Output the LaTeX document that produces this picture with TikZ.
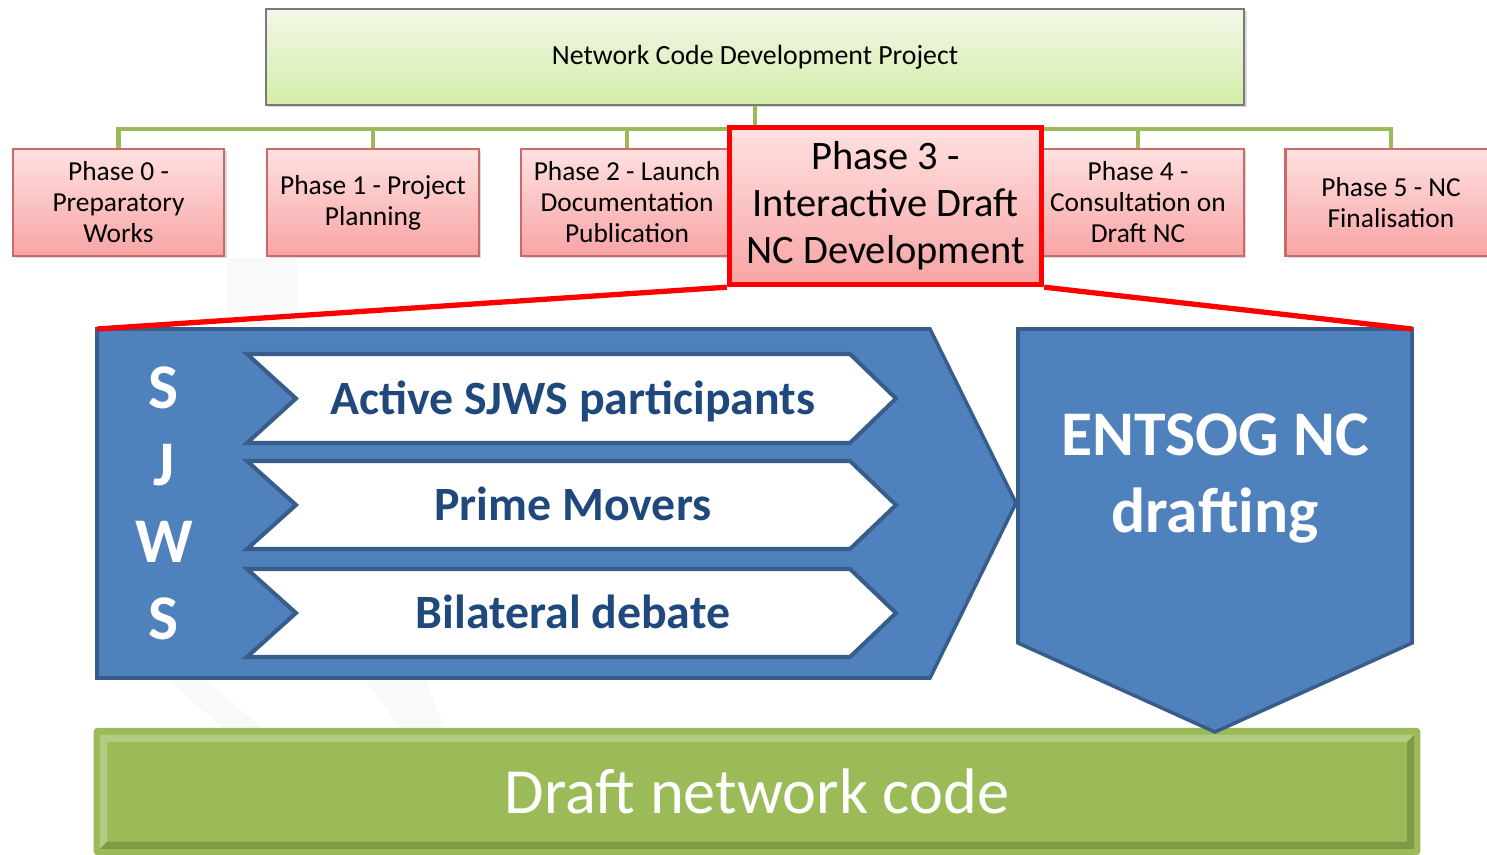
\documentclass[tikz,border=0pt]{standalone}
\usepackage{fontspec}
\setmainfont{Carlito}
\usepackage{tikz}
\usetikzlibrary{shadows}
\usepackage{xcolor}

\definecolor{ncblue}{HTML}{4F81BD}
\definecolor{ncblueline}{HTML}{385D8A}
\definecolor{nctext}{HTML}{1F497D}
\definecolor{ncgreen}{HTML}{9BBB59}
\definecolor{nclight}{HTML}{B3CC84}
\definecolor{ncdark}{HTML}{7E9A45}
\definecolor{projtop}{HTML}{F1F8E8}
\definecolor{projbot}{HTML}{D4EDA8}
\definecolor{phasetop}{HTML}{FFE1E1}
\definecolor{phasebot}{HTML}{F8A4A4}
\definecolor{phaseline}{HTML}{C0504D}

\tikzset{
  projbox/.style={draw=gray!95!black, line width=0.6pt, top color=projtop, bottom color=projbot,
    minimum width=9.78cm, minimum height=0.96cm, inner sep=0pt,
    font=\fontsize{7.9}{9}\selectfont,
    drop shadow={opacity=0.3, shadow xshift=0.7pt, shadow yshift=-0.7pt}},
  phasebox/.style={draw=phaseline!85, line width=0.6pt, top color=phasetop, bottom color=phasebot,
    minimum width=2.11cm, minimum height=1.07cm, inner sep=0pt, align=center,
    font=\fontsize{7.8}{8.8}\selectfont,
    drop shadow={opacity=0.3, shadow xshift=0.7pt, shadow yshift=-0.7pt}},
  bigphase/.style={draw=red, line width=1.5pt, top color=phasetop, bottom color=phasebot,
    minimum width=3.12cm, minimum height=1.57cm, inner sep=0pt, align=center,
    font=\fontsize{11.5}{13.4}\selectfont},
  link/.style={draw=ncgreen, line width=1.2pt},
  zoomline/.style={draw=red, line width=1.5pt},
  blueshape/.style={fill=ncblue, draw=ncblueline, line width=1pt, line join=miter},
  chevron/.style={fill=white, draw=ncblueline, line width=1.15pt, line join=miter},
  chevtext/.style={text=nctext, anchor=base, inner sep=0pt, font=\bfseries\fontsize{13.6}{16}\selectfont},
  whitetext/.style={text=white, align=center, inner sep=0pt, font=\bfseries\fontsize{18.1}{21.9}\selectfont},
  draftbar/.style={fill=ncgreen, rounded corners=1pt, minimum width=13.26cm, minimum height=1.27cm,
    inner sep=0pt, text=white, font=\fontsize{18.3}{20}\selectfont},
  watermark/.style={fill=gray!5}
}

\begin{document}
\begin{tikzpicture}[x=0.01cm,y=-0.01cm]
\useasboundingbox (0,0) rectangle (1487,855) ;
\fill[watermark] (227,258) rectangle (297,329) ;
\fill[watermark] (168,679) -- (205,679) -- (262,728) -- (222,728) -- cycle ;
\fill[watermark] (365,679) -- (425,679) -- (445,728) -- (400,728) -- cycle ;

\node[draftbar] (draft) at (757,791.5) {Draft network code} ;
\fill[nclight] (100,735) -- (1414,735) -- (1407,742) -- (107,742) -- cycle ;
\fill[nclight] (100,735) -- (107,742) -- (107,842) -- (100,849) -- cycle ;
\fill[ncdark] (107,842) -- (1407,842) -- (1414,849) -- (100,849) -- cycle ;
\fill[ncdark] (1414,735) -- (1407,742) -- (1407,842) -- (1414,849) -- cycle ;

\node[projbox] (proj) at (755,57) {Network Code Development Project} ;
\node[phasebox] (ph0) at (118.5,202.5) {Phase 0 -\\Preparatory\\Works} ;
\node[phasebox] (ph1) at (373,202.5) {Phase 1 - Project\\Planning} ;
\node[phasebox] (ph2) at (627,202.5) {Phase 2 - Launch\\Documentation\\Publication} ;
\node[phasebox] (ph4) at (1138,202.5) {Phase 4 -\\Consultation on\\Draft NC} ;
\node[phasebox] (ph5) at (1391,202.5) {Phase 5 - NC\\Finalisation} ;
\coordinate (rail) at (755,129) ;
\draw[link] (proj.south) -- (rail) ;
\draw[link] (ph0.north) |- (rail) ;
\draw[link] (ph1.north) |- (rail) ;
\draw[link] (ph2.north) |- (rail) ;
\draw[link] (ph4.north) |- (rail) ;
\draw[link] (ph5.north) |- (rail) ;
\node[bigphase] (ph3) at (885.5,206) {Phase 3 -\\Interactive Draft\\NC Development} ;

\draw[blueshape] (97,329) -- (930,329) -- (1016,503) -- (930,678) -- (97,678) -- cycle ;
\node[whitetext] (sjws) at (164,503) {S\\J\\W\\S} ;
\draw[chevron] (247,354) -- (850,354) -- (896,398.5) -- (850,443) -- (247,443) -- (296,398.5) -- cycle ;
\node[chevtext] (active) at (573,415) {Active SJWS participants} ;
\draw[chevron] (247,461) -- (850,461) -- (896,505) -- (850,549) -- (247,549) -- (296,505) -- cycle ;
\node[chevtext] (movers) at (573,521) {Prime Movers} ;
\draw[chevron] (247,569) -- (850,569) -- (896,613) -- (850,657) -- (247,657) -- (296,613) -- cycle ;
\node[chevtext] (debate) at (573,629) {Bilateral debate} ;

\draw[blueshape] (1018,329) -- (1412,329) -- (1412,643) -- (1215,732) -- (1018,643) -- cycle ;
\node[whitetext] (entsog) at (1215,479) {ENTSOG NC\\drafting} ;

\coordinate (zl) at (97,329) ;
\coordinate (zr) at (1412,329) ;
\draw[zoomline] (ph3.south west) -- (zl) ;
\draw[zoomline] (ph3.south east) -- (zr) ;
\end{tikzpicture}
\end{document}
